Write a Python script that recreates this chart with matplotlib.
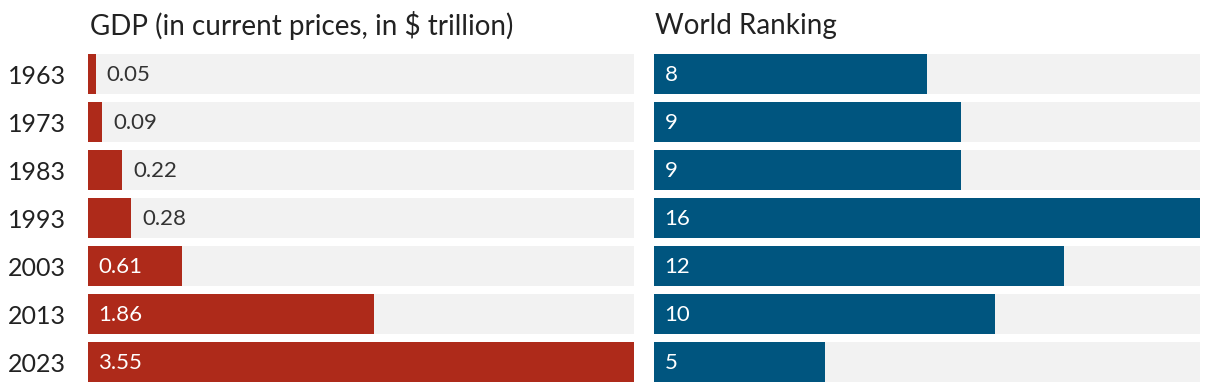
import numpy as np
import matplotlib.pyplot as plt

plt.rcParams['font.family'] = ['Lato', 'DejaVu Sans']

years = ['1963', '1973', '1983', '1993', '2003', '2013', '2023']
gdp = [0.05, 0.09, 0.22, 0.28, 0.61, 1.86, 3.55]
gdp_labels = ['0.05', '0.09', '0.22', '0.28', '0.61', '1.86', '3.55']
rank = [8, 9, 9, 16, 12, 10, 5]

red = '#ae2a1a'
blue = '#00557f'
gray = '#f2f2f2'
text_color = '#222222'

fig = plt.figure(figsize=(12.2, 3.92), dpi=100)
ax1 = fig.add_axes([88 / 1220, 10 / 392, 546 / 1220, 328 / 392])
ax2 = fig.add_axes([654 / 1220, 10 / 392, 546 / 1220, 328 / 392])

y = np.arange(len(years))
h = 40 / 48

# left: GDP
ax1.barh(y, [max(gdp)] * len(y), height=h, color=gray)
ax1.barh(y, gdp, height=h, color=red)
for i, v in enumerate(gdp):
    if v < 0.5:
        ax1.annotate(gdp_labels[i], (v, i), xytext=(8, -1), textcoords='offset points',
                     ha='left', va='center', fontsize=16, color='#333333')
    else:
        ax1.annotate(gdp_labels[i], (0, i), xytext=(7.5, -1), textcoords='offset points',
                     ha='left', va='center', fontsize=16, color='white')
ax1.set_xlim(0, max(gdp))

# right: ranking
ax2.barh(y, [max(rank)] * len(y), height=h, color=gray)
ax2.barh(y, rank, height=h, color=blue)
for i, v in enumerate(rank):
    ax2.annotate(str(v), (0, i), xytext=(7.5, -1), textcoords='offset points',
                 ha='left', va='center', fontsize=16, color='white')
ax2.set_xlim(0, max(rank))

for ax in (ax1, ax2):
    ax.set_ylim(len(y) - 1 + h / 2, -h / 2)
    ax.set_xticks([])
    for s in ax.spines.values():
        s.set_visible(False)

ax1.set_yticks(y)
ax1.set_yticklabels(years, fontsize=18, color=text_color)
ax1.tick_params(axis='y', length=0, pad=16)
ax2.set_yticks([])

fig.text(90 / 1220, 1 - 26 / 392, 'GDP (in current prices, in $ trillion)', fontsize=20,
         color=text_color, va='center', ha='left')
fig.text(655 / 1220, 1 - 26 / 392, 'World Ranking', fontsize=20,
         color=text_color, va='center', ha='left')

fig.savefig('out.png', dpi=100)
